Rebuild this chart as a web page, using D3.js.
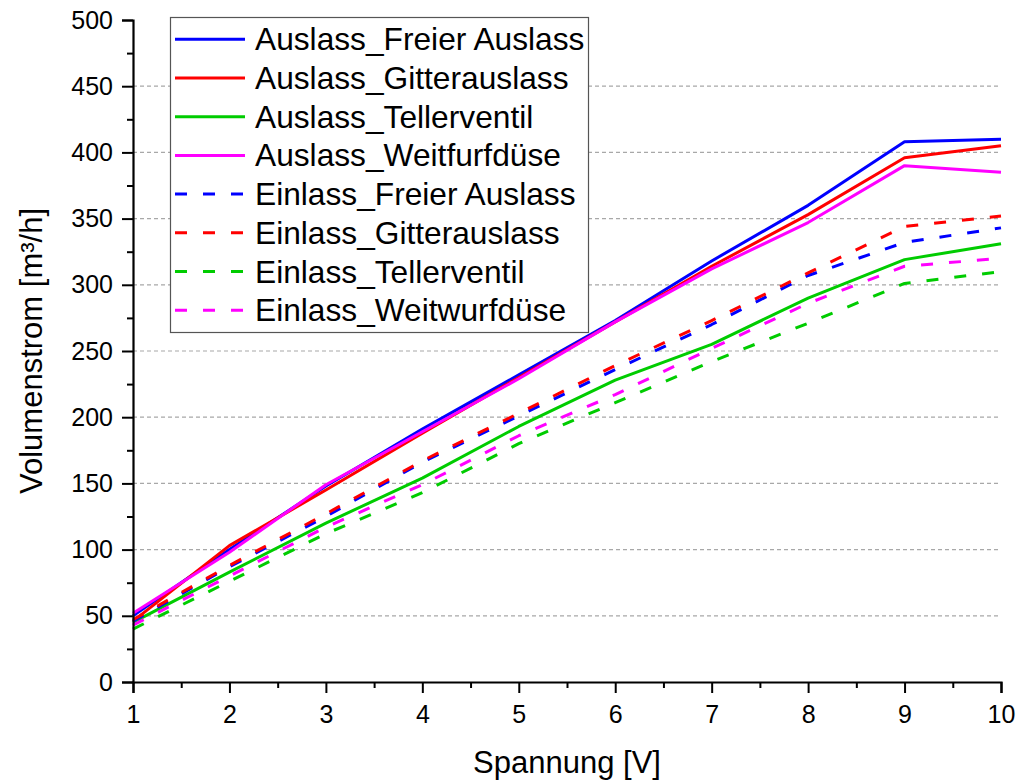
<!DOCTYPE html>
<html>
<head>
<meta charset="utf-8">
<script src="https://cdn.jsdelivr.net/npm/d3@7"></script>
<style>
  html, body { margin: 0; padding: 0; background: #fff; }
  svg { display: block; font-family: "Liberation Sans", Arial, sans-serif; }
</style>
</head>
<body>
<svg id="chart" width="1019" height="780"></svg>
<script>
// Voltage steps (x) and measured air flow per outlet type
const voltage = [1, 2, 3, 4, 5, 6, 7, 8, 9, 10];

const auslassFreier   = [50, 100, 148, 191, 232, 273, 318, 360, 408, 410];
const auslassGitter   = [46, 103, 145, 188, 230, 272, 314, 353, 396, 405];
const auslassTeller   = [45, 83, 120, 154, 193, 228, 255, 290, 319, 331];
const auslassWeitf    = [52, 98, 149, 189, 229, 272, 312, 347, 390, 385];
const einlassFreier   = [46, 87, 125, 166, 201, 236, 270, 307, 332, 343];
const einlassGitter   = [47, 88, 127, 167, 203, 239, 273, 309, 344, 352];
const einlassTeller   = [40, 76, 112, 143, 180, 211, 242, 271, 301, 310];
const einlassWeitw    = [43, 80, 117, 149, 186, 217, 252, 286, 314, 320];

const seriesNames = [
  "Auslass_Freier Auslass", "Auslass_Gitterauslass", "Auslass_Tellerventil", "Auslass_Weitfurfdüse",
  "Einlass_Freier Auslass", "Einlass_Gitterauslass", "Einlass_Tellerventil", "Einlass_Weitwurfdüse"
];
const seriesValues = [
  auslassFreier, auslassGitter, auslassTeller, auslassWeitf,
  einlassFreier, einlassGitter, einlassTeller, einlassWeitw
];
const seriesColors = ["#0000ff", "#ff0000", "#00cc00", "#ff00ff", "#0000ff", "#ff0000", "#00cc00", "#ff00ff"];
const seriesDashed = [false, false, false, false, true, true, true, true];

const yTicks = [0, 50, 100, 150, 200, 250, 300, 350, 400, 450, 500];
const yGrid = [50, 100, 150, 200, 250, 300, 350, 400, 450];
const xTicks = [1, 2, 3, 4, 5, 6, 7, 8, 9, 10];

const svg = d3.select("#chart");
const plotLeft = 133, plotRight = 1001, plotTop = 20, plotBottom = 682;

const x = d3.scaleLinear().domain([1, 10]).range([plotLeft, plotRight]);
const y = d3.scaleLinear().domain([0, 500]).range([plotBottom, plotTop]);

// horizontal dashed grid
svg.append("g").selectAll("line").data(yGrid).join("line")
  .attr("x1", plotLeft).attr("x2", plotRight)
  .attr("y1", d => y(d)).attr("y2", d => y(d))
  .attr("stroke", "#a8a8a8").attr("stroke-width", 1.2)
  .attr("stroke-dasharray", "4,3");

// data lines
const line = d3.line().x((d, i) => x(voltage[i])).y(d => y(d));
const lines = svg.append("g");
seriesValues.forEach((vals, k) => {
  lines.append("path")
    .attr("d", line(vals))
    .attr("fill", "none")
    .attr("stroke", seriesColors[k])
    .attr("stroke-width", 3)
    .attr("stroke-linejoin", "round")
    .attr("stroke-dasharray", seriesDashed[k] ? "12,16" : null);
});

// axes
const axisFont = "25px";
const yMinor = d3.range(25, 500, 50);
const xMinor = d3.range(1.5, 10, 1);

const gyMinor = svg.append("g").attr("transform", `translate(${plotLeft},0)`)
  .call(d3.axisLeft(y).tickValues(yMinor).tickSize(6).tickFormat(""));
const gy = svg.append("g").attr("transform", `translate(${plotLeft},0)`)
  .call(d3.axisLeft(y).tickValues(yTicks).tickSize(11).tickPadding(9).tickFormat(d3.format("d")));
const gxMinor = svg.append("g").attr("transform", `translate(0,${plotBottom})`)
  .call(d3.axisBottom(x).tickValues(xMinor).tickSize(6).tickFormat(""));
const gx = svg.append("g").attr("transform", `translate(0,${plotBottom})`)
  .call(d3.axisBottom(x).tickValues(xTicks).tickSize(11).tickPadding(12).tickFormat(d3.format("d")));

[gy, gx, gyMinor, gxMinor].forEach(g => {
  g.selectAll("path.domain").attr("stroke", "#000").attr("stroke-width", 2.2);
  g.selectAll(".tick line").attr("stroke", "#000").attr("stroke-width", 2);
  g.selectAll(".tick text").attr("fill", "#000").style("font-size", axisFont)
    .style("font-family", '"Liberation Sans", Arial, sans-serif');
});
gyMinor.select("path.domain").remove();
gxMinor.select("path.domain").remove();

// axis titles
svg.append("text")
  .attr("x", (plotLeft + plotRight) / 2).attr("y", 773)
  .attr("text-anchor", "middle")
  .style("font-size", "31px")
  .text("Spannung [V]");

svg.append("text")
  .attr("transform", `translate(42,${(plotTop + plotBottom) / 2}) rotate(-90)`)
  .attr("text-anchor", "middle")
  .style("font-size", "31px")
  .text("Volumenstrom [m³/h]");

// legend
const legend = svg.append("g");
legend.append("rect")
  .attr("x", 170.5).attr("y", 17.5).attr("width", 418).attr("height", 315)
  .attr("fill", "#fff").attr("stroke", "#555").attr("stroke-width", 1.2);
seriesNames.forEach((name, k) => {
  const ry = 39.3 + k * 38.7;
  legend.append("line")
    .attr("x1", 175).attr("x2", 245).attr("y1", ry).attr("y2", ry)
    .attr("stroke", seriesColors[k]).attr("stroke-width", 3)
    .attr("stroke-dasharray", seriesDashed[k] ? "12,16" : null);
  legend.append("text")
    .attr("x", 255).attr("y", ry + 11)
    .style("font-size", "31.7px")
    .text(name);
});
</script>
</body>
</html>
